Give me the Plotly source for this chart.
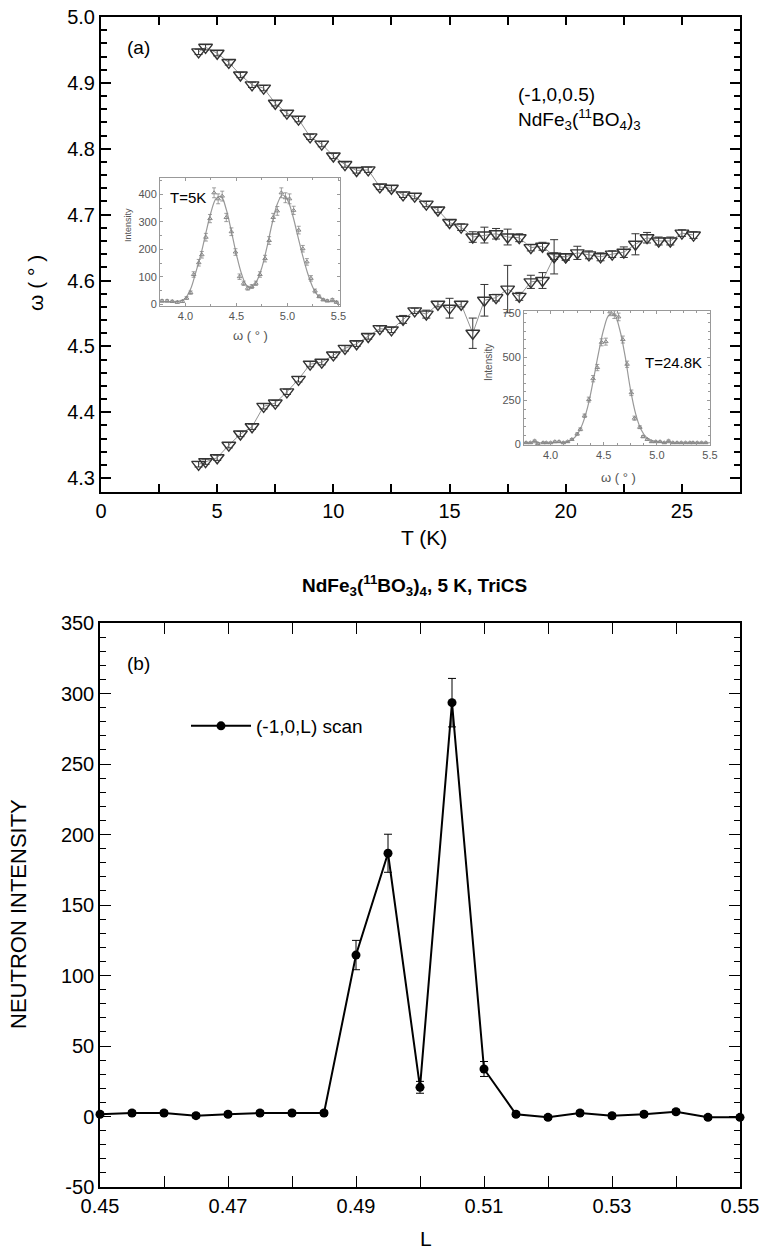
import plotly.graph_objects as go

W, H = 762, 1251
FONT = "Liberation Sans, Arial, sans-serif"

# ---- panel (a): peak position omega vs temperature
T_upper = [4.2, 4.5, 5.0, 5.5, 6.0, 6.5, 7.0, 7.5, 8.0, 8.5, 9.0, 9.5, 10.0, 10.5, 11.0,
           11.5, 12.0, 12.5, 13.0, 13.5, 14.0, 14.5, 15.0, 15.5, 16.0, 16.5, 17.0, 17.5,
           18.0, 18.5, 19.0, 19.5, 20.0, 20.5, 21.0, 21.5, 22.0, 22.5, 23.0, 23.5, 24.0,
           24.5, 25.0, 25.5]
omega_upper = [4.947, 4.954, 4.945, 4.931, 4.912, 4.897, 4.892, 4.869, 4.854, 4.845,
               4.818, 4.807, 4.789, 4.776, 4.767, 4.768, 4.742, 4.740, 4.730, 4.728,
               4.716, 4.707, 4.688, 4.681, 4.666, 4.669, 4.671, 4.666, 4.665, 4.650,
               4.652, 4.637, 4.636, 4.642, 4.639, 4.636, 4.640, 4.643, 4.655, 4.665,
               4.660, 4.660, 4.672, 4.669]
err_upper = [0.004, 0.004, 0.004, 0.004, 0.004, 0.004, 0.004, 0.004, 0.004, 0.004,
             0.004, 0.004, 0.004, 0.004, 0.004, 0.004, 0.004, 0.004, 0.004, 0.004,
             0.004, 0.004, 0.004, 0.005, 0.008, 0.012, 0.008, 0.012, 0.006, 0.005,
             0.006, 0.005, 0.005, 0.010, 0.006, 0.006, 0.005, 0.008, 0.016, 0.008,
             0.006, 0.006, 0.005, 0.005]

T_lower = [4.2, 4.5, 5.0, 5.5, 6.0, 6.5, 7.0, 7.5, 8.0, 8.5, 9.0, 9.5, 10.0, 10.5, 11.0,
           11.5, 12.0, 12.5, 13.0, 13.5, 14.0, 14.5, 15.0, 15.5, 16.0, 16.5, 17.0, 17.5,
           18.0, 18.5, 19.0, 19.5, 20.0]
omega_lower = [4.321, 4.325, 4.331, 4.350, 4.367, 4.378, 4.409, 4.414, 4.431, 4.450,
               4.473, 4.476, 4.487, 4.497, 4.504, 4.515, 4.527, 4.525, 4.541, 4.554,
               4.549, 4.564, 4.558, 4.564, 4.520, 4.570, 4.574, 4.587, 4.576, 4.598,
               4.600, 4.636, 4.636]
err_lower = [0.004, 0.004, 0.004, 0.004, 0.004, 0.004, 0.004, 0.004, 0.004, 0.004,
             0.004, 0.004, 0.004, 0.004, 0.004, 0.004, 0.004, 0.004, 0.006, 0.004,
             0.006, 0.004, 0.015, 0.004, 0.023, 0.024, 0.005, 0.036, 0.006, 0.010,
             0.012, 0.026, 0.005]

# ---- inset: scan at T=5K
om5_pts = [3.77, 3.82, 3.87, 3.92, 3.97, 4.01, 4.05, 4.08, 4.13, 4.16, 4.20, 4.24, 4.28, 4.32,
           4.36, 4.40, 4.45, 4.49, 4.53, 4.57, 4.61, 4.65, 4.69, 4.73, 4.78, 4.82, 4.86, 4.90,
           4.94, 4.98, 5.02, 5.06, 5.11, 5.15, 5.19, 5.23, 5.27, 5.31, 5.35, 5.39, 5.44, 5.48]
int5_pts = [12, 12, 10, 7, 10, 22, 42, 108, 151, 180, 244, 312, 406, 384, 394, 316, 264, 190,
            100, 76, 58, 64, 76, 108, 166, 232, 316, 340, 406, 388, 384, 342, 270, 202, 154,
            94, 48, 28, 16, 12, 16, 7]
err5_pts = [4, 4, 4, 4, 4, 5, 6, 10, 12, 12, 14, 15, 18, 18, 18, 15, 14, 12, 10, 8, 7, 7, 8,
            10, 12, 14, 15, 16, 18, 18, 18, 15, 14, 12, 12, 10, 7, 5, 4, 4, 4, 4]
om_fit = [3.75, 3.80, 3.85, 3.90, 3.95, 4.00, 4.05, 4.10, 4.15, 4.20, 4.25, 4.30, 4.35, 4.40,
          4.45, 4.50, 4.55, 4.60, 4.65, 4.70, 4.75, 4.80, 4.85, 4.90, 4.95, 5.00, 5.05, 5.10,
          5.15, 5.20, 5.25, 5.30, 5.35, 5.40, 5.45, 5.50]
int5_fit = [8, 8, 8, 9, 12, 22, 55, 115, 180, 260, 335, 385, 392, 345, 265, 180, 110, 68, 62,
            85, 135, 210, 295, 365, 398, 380, 325, 250, 175, 110, 60, 30, 16, 10, 9, 8]

# ---- inset: scan at T=24.8K
om25_pts = [3.77, 3.81, 3.85, 3.88, 3.93, 3.96, 4.00, 4.04, 4.08, 4.12, 4.16, 4.20, 4.25, 4.28,
            4.32, 4.36, 4.40, 4.44, 4.48, 4.52, 4.56, 4.60, 4.64, 4.68, 4.72, 4.76, 4.79, 4.84,
            4.87, 4.91, 4.95, 4.99, 5.03, 5.07, 5.11, 5.15, 5.19, 5.23, 5.27, 5.31, 5.34, 5.38,
            5.42, 5.46]
int25_pts = [8, 8, 19, 4, 8, 8, 8, 14, 14, 8, 14, 27, 58, 85, 163, 256, 376, 440, 585, 589,
             760, 744, 731, 601, 459, 295, 149, 97, 43, 27, 14, 14, 14, 8, 19, 8, 8, 8, 8, 8,
             8, 8, 8, 8]
err25_pts = [4, 4, 4, 4, 4, 4, 4, 4, 4, 4, 4, 5, 6, 8, 10, 14, 18, 18, 20, 20, 22, 22, 22, 20,
             18, 16, 12, 8, 6, 5, 4, 4, 4, 4, 4, 4, 4, 4, 4, 4, 4, 4, 4, 4]
int25_fit = [8, 8, 8, 8, 8, 8, 9, 10, 13, 25, 55, 115, 215, 360, 520, 660, 742, 745, 660, 510,
             320, 175, 85, 40, 22, 14, 10, 9, 8, 8, 8, 8, 8, 8, 8, 8]

# ---- panel (b): (-1,0,L) scan at 5 K
L_vals = [0.450, 0.455, 0.460, 0.465, 0.470, 0.475, 0.480, 0.485, 0.490, 0.495, 0.500,
          0.505, 0.510, 0.515, 0.520, 0.525, 0.530, 0.535, 0.540, 0.545, 0.550]
intensity = [1.6, 2.5, 2.5, 0.6, 1.6, 2.5, 2.5, 2.5, 114.5, 186.7, 20.7, 293.5, 33.7,
             1.6, -0.6, 2.5, 0.5, 1.6, 3.4, -0.6, -0.6]
intensity_err = [1.5, 1.5, 1.5, 1.5, 1.5, 1.5, 1.5, 1.5, 10.4, 13.5, 4.2, 17.2, 5.3,
                 1.5, 1.5, 1.5, 1.5, 1.5, 1.5, 1.5, 1.5]
b_ticks = [-50, 0, 50, 100, 150, 200, 250, 300, 350]
b_ticktext = ["-50", "0", "50", "100", "150", "200", "250", "300", "350"]


def px(x):
    return x / W


def py(y):
    return 1 - y / H


fig = go.Figure()

for T, om, er in [(T_upper, omega_upper, err_upper), (T_lower, omega_lower, err_lower)]:
    fig.add_trace(go.Scatter(
        x=T, y=om, mode="lines+markers", showlegend=False,
        line=dict(color="#777777", width=0.8),
        marker=dict(symbol="triangle-down-open", size=12, color="#333333",
                    line=dict(width=1.4, color="#333333")),
        error_y=dict(type="data", array=er, color="#333333", thickness=1, width=4),
        xaxis="x", yaxis="y"))

# inset traces
for xa, ya, xs, ys, es, fit in [("x2", "y2", om5_pts, int5_pts, err5_pts, int5_fit),
                                ("x3", "y3", om25_pts, int25_pts, err25_pts, int25_fit)]:
    fig.add_trace(go.Scatter(
        x=om_fit, y=fit, mode="lines", line=dict(color="#999999", width=1.2, shape="spline"),
        showlegend=False, xaxis=xa, yaxis=ya))
    fig.add_trace(go.Scatter(
        x=xs, y=ys, mode="markers", showlegend=False,
        marker=dict(symbol="triangle-up-open", size=4, color="#888888", line=dict(width=1)),
        error_y=dict(type="data", array=es, color="#888888", thickness=0.8, width=2),
        xaxis=xa, yaxis=ya))

fig.add_trace(go.Scatter(
    x=L_vals, y=intensity, mode="lines+markers", name="(-1,0,L) scan",
    line=dict(color="black", width=2),
    marker=dict(symbol="circle", size=9, color="black"),
    error_y=dict(type="data", array=intensity_err, color="black", thickness=1, width=4),
    cliponaxis=False, xaxis="x4", yaxis="y4"))

main_ax = dict(showline=True, linecolor="black", mirror="ticks", ticks="inside",
               tickcolor="black", showgrid=False, zeroline=False, automargin=False,
               tickfont=dict(family=FONT, size=20, color="black"))
inset_ax = dict(showline=True, linecolor="#999999", linewidth=1, mirror="ticks",
                ticks="inside", ticklen=3, tickcolor="#999999", showgrid=False,
                zeroline=False, automargin=False,
                tickfont=dict(family=FONT, size=11, color="#555555"))

fig.update_layout(
    template="none",
    width=W, height=H, margin=dict(l=0, r=0, t=0, b=0, pad=0),
    paper_bgcolor="white", plot_bgcolor="white",
    font=dict(family=FONT, color="black"),
    xaxis=dict(main_ax, domain=[px(101), px(740)], anchor="y", range=[0, 27.5],
               tickvals=[0, 5, 10, 15, 20, 25], linewidth=2, ticklen=8, tickwidth=1.5,
               minor=dict(ticks="inside", dtick=2.5, tick0=0, ticklen=8, tickcolor="black")),
    yaxis=dict(main_ax, domain=[py(492), py(17)], anchor="x", range=[4.279, 5.0],
               tickvals=[4.3, 4.4, 4.5, 4.6, 4.7, 4.8, 4.9, 5.0], tickformat=".1f",
               linewidth=2, ticklen=10, tickwidth=1.5,
               minor=dict(ticks="inside", dtick=0.02, tick0=4.28, ticklen=6, tickcolor="black")),
    xaxis2=dict(inset_ax, domain=[px(160), px(339.5)], anchor="y2", range=[3.75, 5.51],
                tickvals=[4.0, 4.5, 5.0, 5.5], tickformat=".1f",
                minor=dict(ticks="inside", dtick=0.25, tick0=4.0, ticklen=2, tickcolor="#999999")),
    yaxis2=dict(inset_ax, domain=[py(305.5), py(178)], anchor="x2", range=[-5, 460],
                tickvals=[0, 100, 200, 300, 400],
                minor=dict(ticks="inside", dtick=50, tick0=0, ticklen=2, tickcolor="#999999")),
    xaxis3=dict(inset_ax, domain=[px(524), px(710)], anchor="y3", range=[3.75, 5.5],
                tickvals=[4.0, 4.5, 5.0, 5.5], tickformat=".1f",
                minor=dict(ticks="inside", dtick=0.125, tick0=4.0, ticklen=2, tickcolor="#999999")),
    yaxis3=dict(inset_ax, domain=[py(445), py(311)], anchor="x3", range=[-5, 765],
                tickvals=[0, 250, 500, 750],
                minor=dict(ticks="inside", dtick=50, tick0=0, ticklen=2, tickcolor="#999999")),
    xaxis4=dict(main_ax, domain=[px(100), px(740)], anchor="y4", range=[0.45, 0.55],
                tickvals=[0.45, 0.47, 0.49, 0.51, 0.53, 0.55], tickformat=".2f",
                linewidth=1.5, ticklen=11, tickwidth=1.2,
                minor=dict(ticks="inside", dtick=0.01, tick0=0.45, ticklen=11, tickcolor="black")),
    yaxis4=dict(main_ax, domain=[py(1187), py(623)], anchor="x4", range=[-50, 350],
                tickvals=b_ticks, ticktext=b_ticktext,
                linewidth=1.5, ticklen=11, tickwidth=1.2,
                minor=dict(ticks="inside", dtick=10, tick0=0, ticklen=6, tickcolor="black")),
    showlegend=True,
    legend=dict(x=px(186), y=py(726), xanchor="left", yanchor="middle",
                bgcolor="rgba(0,0,0,0)", itemwidth=60,
                font=dict(family=FONT, size=19, color="black")),
)

ann = [
    dict(text="(a)", x=px(125), y=py(48), xanchor="left", size=19),
    dict(text="(-1,0,0.5)", x=px(516), y=py(94), xanchor="left", size=19),
    dict(text="NdFe<sub>3</sub>(<sup>11</sup>BO<sub>4</sub>)<sub>3</sub>", x=px(516), y=py(119),
         xanchor="left", size=19),
    dict(text="ω ( ° )", x=px(35), y=py(283), angle=-90, size=21),
    dict(text="T (K)", x=px(424), y=py(537), size=21),
    dict(text="T=5K", x=px(168), y=py(197), xanchor="left", size=15),
    dict(text="Intensity", x=px(128), y=py(225), angle=-90, size=9, color="#555555"),
    dict(text="ω ( ° )", x=px(250), y=py(335), size=13, color="#555555"),
    dict(text="T=24.8K", x=px(643), y=py(363), xanchor="left", size=15),
    dict(text="Intensity", x=px(489), y=py(363), angle=-90, size=10, color="#555555"),
    dict(text="ω ( ° )", x=px(618), y=py(477), size=13, color="#555555"),
    dict(text="<b>NdFe<sub>3</sub>(<sup>11</sup>BO<sub>3</sub>)<sub>4</sub>, 5 K, TriCS</b>",
         x=px(414), y=py(585), size=19),
    dict(text="(b)", x=px(125), y=py(663), xanchor="left", size=19),
    dict(text="NEUTRON INTENSITY", x=px(18), y=py(914), angle=-90, size=22),
    dict(text="L", x=px(426), y=py(1238), size=21),
]
for a in ann:
    fig.add_annotation(
        text=a["text"], x=a["x"], y=a["y"], xref="paper", yref="paper",
        xanchor=a.get("xanchor", "center"), yanchor="middle", showarrow=False,
        textangle=a.get("angle", 0),
        font=dict(family=FONT, size=a["size"], color=a.get("color", "black")))

# the page body has a default 8px margin; drop it so the figure fills the window
fig.write_html("out.html", config={"displayModeBar": False},
               post_script="document.body.style.margin='0';")
